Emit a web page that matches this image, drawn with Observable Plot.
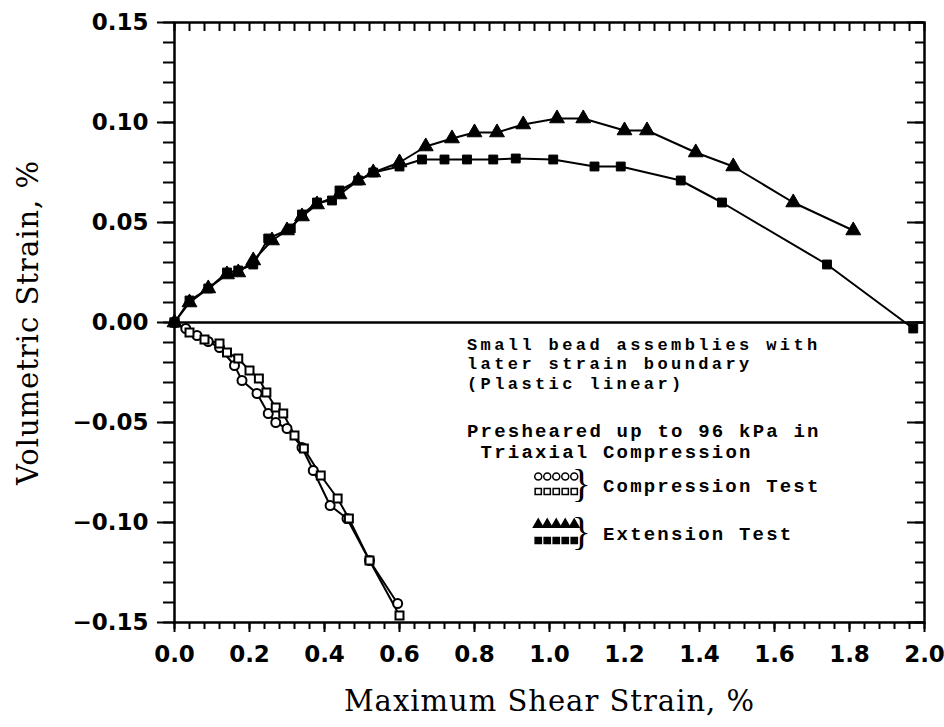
<!DOCTYPE html>
<html><head><meta charset="utf-8">
<script src="https://cdn.jsdelivr.net/npm/d3@7"></script>
<script src="https://cdn.jsdelivr.net/npm/@observablehq/plot@0.6"></script>
<style>body{margin:0;background:#fff}</style>
</head><body><div id="chart"></div>
<script>
// ---- axis ticks / labels ----
const xMajorTicks = [0, 0.2, 0.4, 0.6, 0.8, 1.0, 1.2, 1.4, 1.6, 1.8, 2.0];
const xTickLabels = ["0.0","0.2","0.4","0.6","0.8","1.0","1.2","1.4","1.6","1.8","2.0"];
const yMajorTicks = [-0.15, -0.10, -0.05, 0, 0.05, 0.10, 0.15];
const yTickLabels = ["\u22120.15","\u22120.10","\u22120.05","0.00","0.05","0.10","0.15"];
const xMinorTicks = [0,0.04,0.08,0.12,0.16,0.2,0.24,0.28,0.32,0.36,0.4,0.44,0.48,0.52,0.56,0.6,0.64,0.68,0.72,0.76,0.8,0.84,0.88,0.92,0.96,1.0,1.04,1.08,1.12,1.16,1.2,1.24,1.28,1.32,1.36,1.4,1.44,1.48,1.52,1.56,1.6,1.64,1.68,1.72,1.76,1.8,1.84,1.88,1.92,1.96,2.0];
const yMinorTicks = [-0.15,-0.14,-0.13,-0.12,-0.11,-0.10,-0.09,-0.08,-0.07,-0.06,-0.05,-0.04,-0.03,-0.02,-0.01,0,0.01,0.02,0.03,0.04,0.05,0.06,0.07,0.08,0.09,0.10,0.11,0.12,0.13,0.14,0.15];
const xTitle = "Maximum Shear Strain, %";
const yTitle = "Volumetric Strain, %";

// ---- Extension test: filled triangles ----
const extTriX = [0, 0.04, 0.09, 0.14, 0.17, 0.21, 0.26, 0.30, 0.34, 0.38, 0.44, 0.49, 0.53, 0.60, 0.67, 0.74, 0.80, 0.86, 0.93, 1.02, 1.09, 1.20, 1.26, 1.39, 1.49, 1.65, 1.81];
const extTriY = [0, 0.010, 0.017, 0.024, 0.025, 0.031, 0.041, 0.046, 0.053, 0.059, 0.064, 0.071, 0.075, 0.080, 0.088, 0.092, 0.095, 0.095, 0.099, 0.102, 0.102, 0.096, 0.096, 0.085, 0.078, 0.060, 0.046];
// ---- Extension test: filled squares ----
const extSqX = [0, 0.04, 0.09, 0.14, 0.17, 0.21, 0.25, 0.31, 0.34, 0.38, 0.42, 0.44, 0.49, 0.53, 0.60, 0.66, 0.72, 0.78, 0.85, 0.91, 1.01, 1.12, 1.19, 1.35, 1.46, 1.74, 1.97];
const extSqY = [0, 0.011, 0.017, 0.025, 0.026, 0.029, 0.042, 0.047, 0.054, 0.060, 0.061, 0.066, 0.071, 0.075, 0.078, 0.0815, 0.0815, 0.0815, 0.0815, 0.082, 0.0815, 0.078, 0.078, 0.071, 0.060, 0.029, -0.003];
// ---- Compression test: open circles ----
const compCircX = [0, 0.03, 0.06, 0.09, 0.12, 0.16, 0.18, 0.22, 0.25, 0.27, 0.30, 0.34, 0.37, 0.415, 0.46, 0.52, 0.595];
const compCircY = [0, -0.003, -0.0065, -0.0095, -0.0125, -0.0215, -0.029, -0.0355, -0.0455, -0.050, -0.053, -0.0625, -0.074, -0.0915, -0.098, -0.119, -0.1405];
// ---- Compression test: open squares ----
const compSqX = [0, 0.04, 0.08, 0.12, 0.14, 0.17, 0.20, 0.225, 0.245, 0.27, 0.29, 0.32, 0.345, 0.39, 0.435, 0.465, 0.52, 0.60];
const compSqY = [0, -0.005, -0.0085, -0.0105, -0.015, -0.018, -0.024, -0.028, -0.035, -0.0425, -0.0455, -0.0565, -0.063, -0.0765, -0.088, -0.098, -0.119, -0.1465];

// ---- annotation / legend text ----
const noteLines = ["Small bead assemblies with", "later strain boundary", "(Plastic linear)"];
const presLines = ["Presheared up to 96 kPa in", " Triaxial Compression"];
const legendLabels = ["Compression Test", "Extension Test"];
const legendSymbols = ["circle", "square", "triangle", "square"];
const legendFilled = [false, false, true, true];

const toPts = (xs, ys) => xs.map((x, i) => ({x, y: ys[i]}));
const extTri = toPts(extTriX, extTriY);
const extSq = toPts(extSqX, extSqY);
const compCirc = toPts(compCircX, compCircY);
const compSq = toPts(compSqX, compSqY);

// legend marker rows (5 markers per row)
const legendRowY = [-0.077, -0.0845, -0.101, -0.109];
const legendDots = [];
legendSymbols.forEach((s, r) => {
  for (let i = 0; i < 5; i++) legendDots.push({x: 0.97 + i * 0.024, y: legendRowY[r], symbol: s, filled: legendFilled[r]});
});

const tickFont = {fontFamily: "DejaVu Sans", fontWeight: "bold", fontSize: 23};
const monoFont = {fontFamily: "Liberation Mono", fontWeight: "bold", fontSize: 19};
const noteFont = {fontFamily: "Liberation Mono", fontWeight: "bold", fontSize: 17};

// one text mark per annotation line
const noteMarks = noteLines.map((t, i) => Plot.text([t], {x: 0.78, y: [-0.011, -0.02075, -0.0305][i], text: d => d, textAnchor: "start", ...noteFont}));
const presMarks = presLines.map((t, i) => Plot.text([t], {x: 0.78, y: [-0.054, -0.0645][i], text: d => d, textAnchor: "start", ...monoFont}));

const plot = Plot.plot({
  width: 944, height: 727,
  marginLeft: 174, marginRight: 20, marginTop: 22, marginBottom: 105,
  x: {domain: [0, 2]},
  y: {domain: [-0.15, 0.15]},
  symbol: {type: "identity"},
  style: {background: "#fff", color: "#000"},
  marks: [
    // bottom axis
    Plot.axisX(xMinorTicks, {anchor: "bottom", tickSize: 7, strokeWidth: 2, tickFormat: () => "", label: null}),
    Plot.axisX(xMajorTicks, {anchor: "bottom", tickSize: 10, strokeWidth: 2, tickPadding: 13, label: null,
      tickFormat: d => xTickLabels[xMajorTicks.indexOf(d)], ...tickFont}),
    // left axis
    Plot.axisY(yMinorTicks, {anchor: "left", tickSize: 11, strokeWidth: 2, tickFormat: () => "", label: null}),
    Plot.axisY(yMajorTicks, {anchor: "left", tickSize: 17, strokeWidth: 2, tickPadding: 9, label: null,
      tickFormat: d => yTickLabels[yMajorTicks.indexOf(d)], ...tickFont}),
    // top (inward) ticks
    Plot.ruleX(xMinorTicks, {insetBottom: 591, strokeWidth: 2}),
    // right (inward) ticks
    Plot.ruleY(yMinorTicks, {insetLeft: 741, strokeWidth: 2}),
    Plot.ruleY(yMajorTicks, {insetLeft: 733, strokeWidth: 2}),
    Plot.frame({strokeWidth: 2.5}),
    Plot.ruleY([0], {strokeWidth: 2.5}),
    // series
    Plot.line(compCirc, {x: "x", y: "y", strokeWidth: 2}),
    Plot.line(compSq, {x: "x", y: "y", strokeWidth: 2}),
    Plot.line(extTri, {x: "x", y: "y", strokeWidth: 2}),
    Plot.line(extSq, {x: "x", y: "y", strokeWidth: 2}),
    Plot.dot(compCirc, {x: "x", y: "y", symbol: "circle", r: 4.5, stroke: "#000", fill: "#fff", strokeWidth: 2}),
    Plot.dot(compSq, {x: "x", y: "y", symbol: "square", r: 4.5, stroke: "#000", fill: "#fff", strokeWidth: 2}),
    Plot.dot(extTri, {x: "x", y: "y", symbol: "triangle", r: 5.5, fill: "#000", stroke: "#000", strokeWidth: 1}),
    Plot.dot(extSq, {x: "x", y: "y", symbol: "square", r: 5, fill: "#000", stroke: "#000", strokeWidth: 1}),
    // titles
    Plot.text([xTitle], {frameAnchor: "bottom", dy: 88, text: d => d, textAnchor: "middle", fontFamily: "DejaVu Serif", fontSize: 29}),
    Plot.text([yTitle], {frameAnchor: "left", dx: -146, rotate: -90, text: d => d, textAnchor: "middle", fontFamily: "DejaVu Serif", fontSize: 29}),
    // annotation
    ...noteMarks,
    ...presMarks,
    // legend
    Plot.dot(legendDots, {x: "x", y: "y", symbol: "symbol", r: 3.5, stroke: "#000", strokeWidth: 1.5,
      fill: d => d.filled ? "#000" : "#fff"}),
    Plot.text(["}", "}"], {x: 1.085, y: (d, i) => [-0.081, -0.105][i], text: d => d, fontFamily: "Liberation Serif", fontSize: 40}),
    Plot.text(legendLabels, {x: 1.1425, y: (d, i) => [-0.0815, -0.1055][i], text: d => d, textAnchor: "start", ...monoFont})
  ]
});
// letter spacing for the typewriter-style notes and the axis titles
const notes = new Set(noteLines);
const spaced = new Set([...presLines, ...legendLabels]);
d3.select(plot).selectAll("text").each(function() {
  const t = this.textContent;
  if (notes.has(t)) this.setAttribute("letter-spacing", "3.4");
  else if (spaced.has(t)) this.setAttribute("letter-spacing", "2.2");
  else if (t === xTitle || t === yTitle) this.setAttribute("letter-spacing", "1");
});
document.getElementById("chart").appendChild(plot);
</script>
</body></html>
